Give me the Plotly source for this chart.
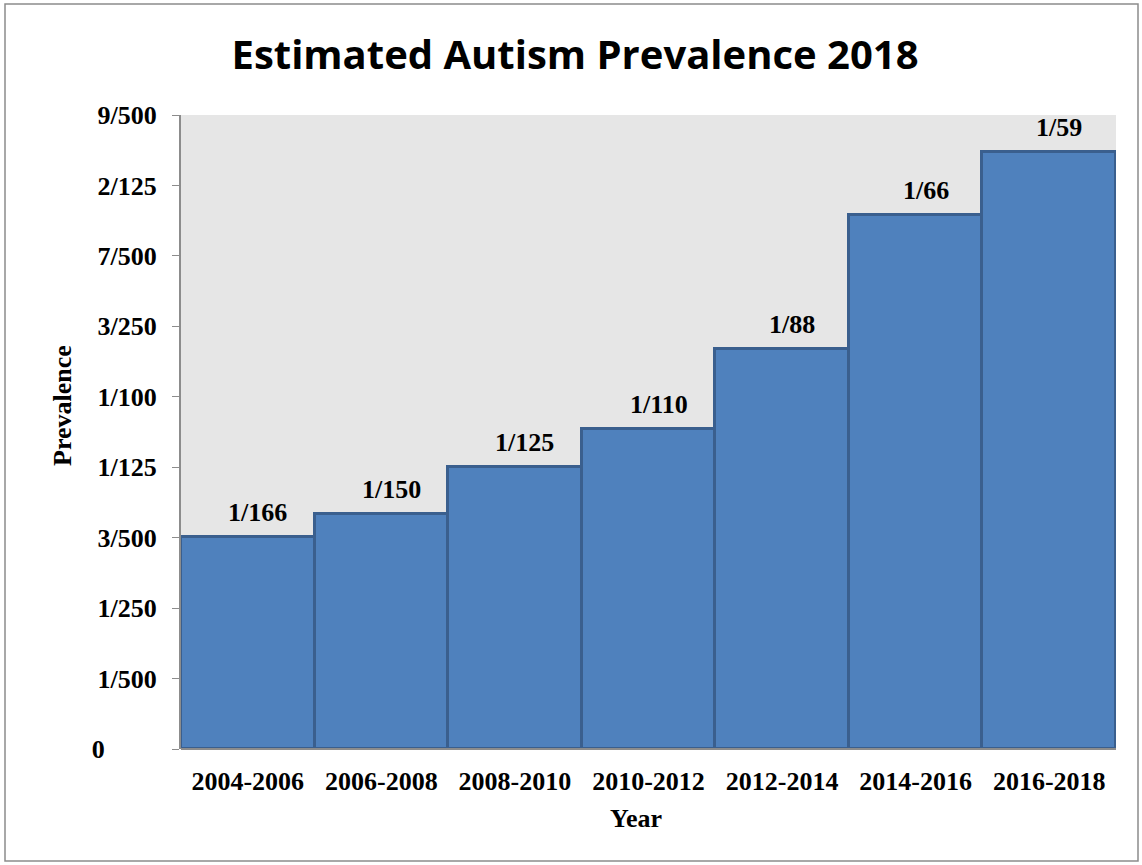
import plotly.graph_objects as go

years = ["2004-2006", "2006-2008", "2008-2010", "2010-2012", "2012-2014", "2014-2016", "2016-2018"]
denominators = [166, 150, 125, 110, 88, 66, 59]
prevalence = [1 / d for d in denominators]
bar_labels = [f"<b>1/{d}</b>" for d in denominators]
tick_vals = [0, 0.002, 0.004, 0.006, 0.008, 0.010, 0.012, 0.014, 0.016, 0.018]
tick_text = ["0" + "\u00a0" * 8, "1/500", "1/250", "3/500", "1/125", "1/100", "3/250", "7/500", "2/125", "9/500"]

W, H = 1142, 865
L, R, T, B = 181, 1116, 115, 749
pw, ph = R - L, B - T

def px(x):
    return (x - L) / pw

def py(y):
    return (B - y) / ph

serif = "Liberation Serif, Times New Roman, serif"

fig = go.Figure(go.Bar(
    x=years, y=prevalence,
    marker=dict(color="#4f81bd", line=dict(color="#3a5f8e", width=3)),
    cliponaxis=False,
))

for yr, val, lab in zip(years, prevalence, bar_labels):
    fig.add_annotation(x=yr, y=val, text=lab, showarrow=False, xanchor="center", yanchor="bottom",
                       xshift=10, yshift=8, font=dict(family=serif, size=26, color="black"))

fig.update_layout(
    width=W, height=H,
    margin=dict(l=L, r=W - R, t=T, b=H - B),
    paper_bgcolor="white", plot_bgcolor="#e6e6e6",
    bargap=0,
    showlegend=False,
    title=dict(text="<b>Estimated Autism Prevalence 2018</b>", x=px(575), xref="paper", xanchor="center",
               y=1 - 55 / H, yanchor="middle",
               font=dict(family="Open Sans, Liberation Sans, sans-serif", size=40, color="black")),
    xaxis=dict(showgrid=False, showline=False, ticks="", ticklabelstandoff=14,
               tickfont=dict(family=serif, size=26, color="black")),
    yaxis=dict(range=[0, 0.018], tickvals=tick_vals, ticktext=[f"<b>{t}</b>" for t in tick_text],
               showgrid=False, showline=True, linecolor="#8c8c8c", linewidth=2,
               ticks="outside", ticklen=7, tickcolor="#8c8c8c", ticklabelstandoff=10,
               tickfont=dict(family=serif, size=26, color="black")),
    font=dict(family=serif),
)
fig.update_xaxes(tickprefix="<b>", ticksuffix="</b>")

# axis titles
fig.add_annotation(text="<b>Prevalence</b>", xref="paper", yref="paper", x=px(62), y=py(406),
                   textangle=-90, showarrow=False, xanchor="center", yanchor="middle",
                   font=dict(family=serif, size=26, color="black"))
fig.add_annotation(text="<b>Year</b>", xref="paper", yref="paper", x=px(636), y=py(818),
                   showarrow=False, xanchor="center", yanchor="middle",
                   font=dict(family=serif, size=26, color="black"))

# bottom axis line
fig.add_shape(type="line", xref="paper", yref="paper", x0=px(181), x1=px(1116), y0=0, y1=0,
              line=dict(color="#8c8c8c", width=2), layer="above")
# outer border
fig.add_shape(type="rect", xref="paper", yref="paper", x0=px(5), x1=px(1138), y0=py(861), y1=py(4),
              line=dict(color="#8c8c8c", width=1.5), layer="below")

fig.write_html("out.html")
